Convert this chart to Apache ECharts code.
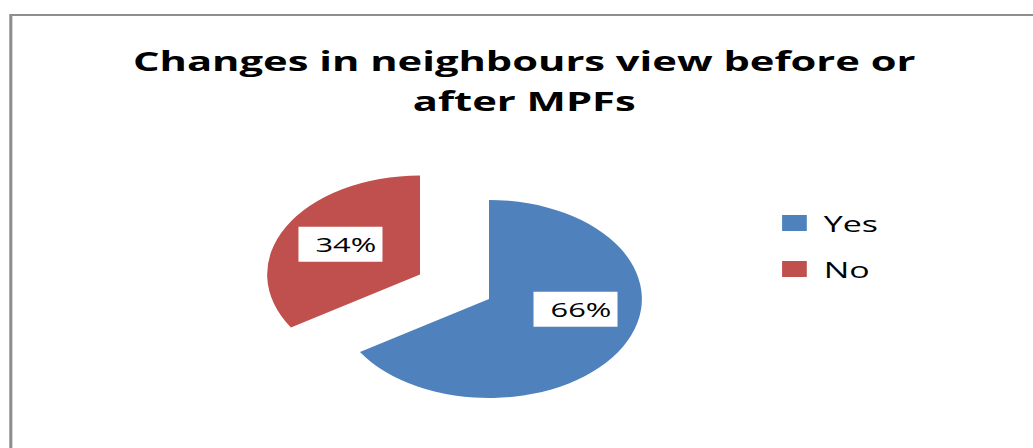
<!DOCTYPE html>
<html>
<head>
<meta charset="utf-8">
<script src="https://cdn.jsdelivr.net/npm/echarts@6/dist/echarts.min.js"></script>
<style>
  html, body { margin: 0; padding: 0; background: #ffffff; overflow: hidden; }
  /* The chart is laid out on a narrower canvas and stretched horizontally to fill the page */
  #chart { width: 669px; height: 448px; transform: scaleX(1.5441); transform-origin: 0 0; }
</style>
</head>
<body>
<div id="chart"></div>
<script>
// Survey answers: share of respondents (%)
const categories = ['Yes', 'No'];
const values = [66, 34];
const titleLines = ['Changes in neighbours view before or', 'after MPFs'];

// The slice that is pulled out of the pie
const explodedCategory = 'No';

const chart = echarts.init(document.getElementById('chart'), null, { renderer: 'svg' });

const pieData = categories.map((name, i) => ({
  name: name,
  value: values[i],
  selected: name === explodedCategory
}));

// Small shifts applied to the in-slice value labels
const labelNudge = { Yes: [10, -15], No: [-5.5, -5] };

chart.setOption({
  animation: false,
  color: ['#4F81BD', '#C0504D'],
  graphic: [{
    type: 'rect',
    silent: true,
    shape: { x: 7, y: 15, width: 1000, height: 1000 },
    style: { fill: 'none', stroke: '#8e8e8e', lineWidth: 2 }
  }],
  title: {
    text: titleLines.join('\n'),
    left: 334.5,
    textAlign: 'center',
    top: 35,
    textStyle: {
      fontFamily: 'Open Sans',
      fontWeight: 'bold',
      fontSize: 27,
      lineHeight: 40,
      color: '#000000'
    }
  },
  legend: {
    orient: 'vertical',
    left: 501.5,
    top: 206,
    icon: 'rect',
    itemWidth: 16,
    itemHeight: 16,
    itemGap: 22,
    selectedMode: false,
    data: categories,
    textStyle: {
      fontFamily: 'Open Sans',
      fontSize: 22,
      lineHeight: 24,
      color: '#000000',
      padding: [0, 0, 0, 6]
    }
  },
  series: [{
    type: 'pie',
    center: [316.7, 299],
    radius: 99,
    startAngle: 90,
    clockwise: true,
    selectedMode: 'multiple',
    selectedOffset: 51,
    avoidLabelOverlap: false,
    itemStyle: { borderWidth: 0 },
    emphasis: { disabled: true },
    select: { itemStyle: { borderWidth: 0 } },
    label: {
      show: true,
      position: 'inside',
      formatter: '{c}%',
      fontFamily: 'Open Sans',
      fontSize: 20,
      lineHeight: 21,
      color: '#000000',
      backgroundColor: '#ffffff',
      padding: [10, 4, 4, 11]
    },
    labelLine: { show: false },
    labelLayout: function (params) {
      const nudge = labelNudge[categories[params.dataIndex]] || [0, 0];
      return { dx: nudge[0], dy: nudge[1] };
    },
    data: pieData
  }]
});
</script>
</body>
</html>
